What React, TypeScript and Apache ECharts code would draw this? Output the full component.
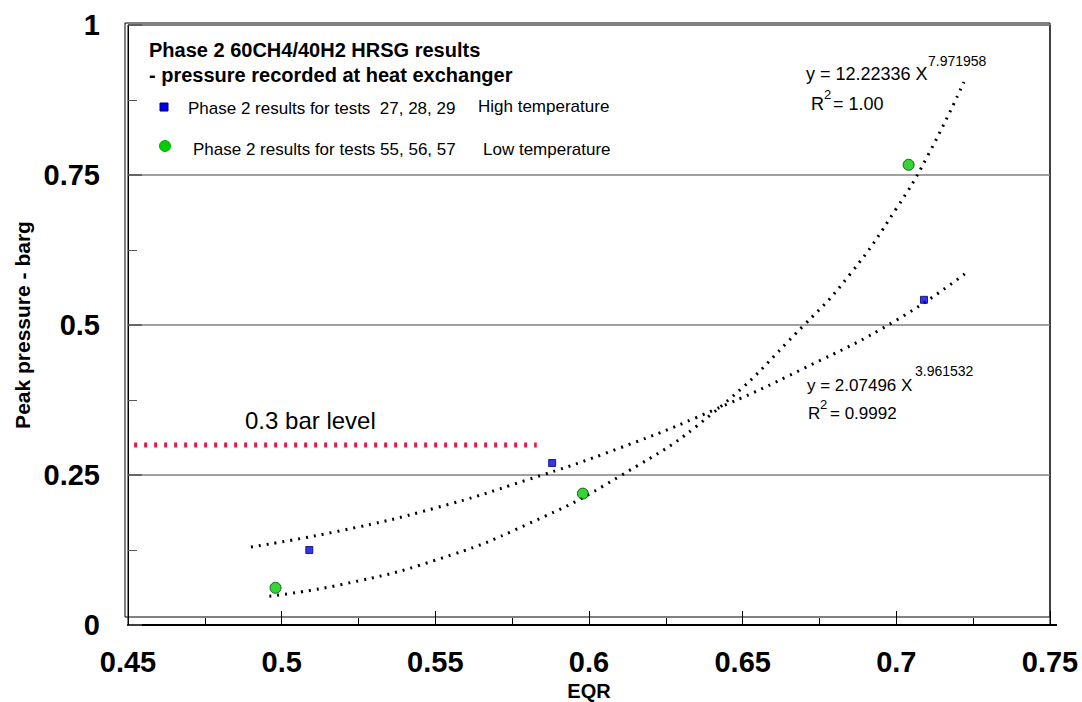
import React, { useEffect, useRef } from "react";
import * as echarts from "echarts";

// Measured data
const highEQR = [0.509, 0.588, 0.709];
const highP = [0.125, 0.27, 0.542];
const lowEQR = [0.498, 0.598, 0.704];
const lowP = [0.062, 0.219, 0.767];

// Trend lines
const highTrendX = [0.49, 0.52, 0.55, 0.58, 0.61, 0.64, 0.67, 0.7, 0.723];
const highTrendY = [0.13, 0.158, 0.195, 0.242, 0.295, 0.357, 0.428, 0.508, 0.588];
const lowTrendX = [0.496, 0.52, 0.55, 0.58, 0.61, 0.64, 0.67, 0.685, 0.7, 0.71, 0.722];
const lowTrendY = [0.048, 0.068, 0.108, 0.168, 0.248, 0.352, 0.5, 0.585, 0.694, 0.78, 0.905];

// 0.3 bar level reference
const levelX = [0.452, 0.583];
const levelY = 0.3;

const xTicks = { min: 0.45, max: 0.75, interval: 0.05 };
const yTicks = { min: 0, max: 1, interval: 0.25 };

const FONT = "Arial, 'Liberation Sans', sans-serif";

export default function App() {
  const ref = useRef<HTMLDivElement>(null);
  useEffect(() => {
    if (!ref.current) return;
    const chart = echarts.init(ref.current, undefined, { renderer: "svg" });
    const zip = (xs: number[], ys: number[]) => xs.map((x, i) => [x, ys[i]]);
    const option: any = {
      animation: false,
      backgroundColor: "#fff",
      textStyle: { fontFamily: FONT },
      grid: {
        left: 128,
        right: 32,
        top: 25,
        bottom: 77,
        show: true,
        borderColor: "#000",
        borderWidth: 1,
        containLabel: false,
        outerBoundsMode: "none",
      },
      xAxis: {
        type: "value",
        min: xTicks.min,
        max: xTicks.max,
        interval: xTicks.interval,
        name: "EQR",
        nameLocation: "middle",
        nameGap: 54,
        nameTextStyle: { fontFamily: FONT, fontWeight: "bold", fontSize: 20, color: "#000" },
        axisLine: { show: true, onZero: false, lineStyle: { color: "#000", width: 2 } },
        axisTick: { show: true, inside: true, length: 14, lineStyle: { color: "#000", width: 1 } },
        minorTick: { show: true, splitNumber: 2, length: 7, lineStyle: { color: "#000", width: 1 } },
        splitLine: { show: false },
        axisLabel: {
          margin: 22,
          fontFamily: FONT,
          fontWeight: "bold",
          fontSize: 29,
          color: "#000",
        },
      },
      yAxis: {
        type: "value",
        min: yTicks.min,
        max: yTicks.max,
        interval: yTicks.interval,
        name: "Peak pressure - barg",
        nameLocation: "middle",
        nameRotate: 90,
        nameGap: 80,
        nameTextStyle: { fontFamily: FONT, fontWeight: "bold", fontSize: 21, color: "#000" },
        axisLine: { show: true, lineStyle: { color: "#000", width: 1 } },
        axisTick: { show: true, inside: true, length: 14, lineStyle: { color: "#555", width: 1.5 } },
        minorTick: { show: true, splitNumber: 2, length: 9, lineStyle: { color: "#555", width: 1 } },
        splitLine: { show: true, lineStyle: { color: "#808080", width: 1.5 } },
        axisLabel: {
          margin: 28,
          fontFamily: FONT,
          fontWeight: "bold",
          fontSize: 29,
          color: "#000",
        },
      },
      series: [
        {
          name: "0.3 bar level",
          type: "line",
          data: levelX.map((x) => [x, levelY]),
          symbol: "none",
          silent: true,
          lineStyle: { color: "#E8174B", width: 5, type: [3, 7], cap: "butt" },
          z: 2,
        },
        {
          name: "High trend",
          type: "line",
          data: zip(highTrendX, highTrendY),
          smooth: true,
          symbol: "none",
          silent: true,
          lineStyle: { color: "#000", width: 3, type: [2, 6], cap: "butt" },
          z: 2,
        },
        {
          name: "Low trend",
          type: "line",
          data: zip(lowTrendX, lowTrendY),
          smooth: true,
          symbol: "none",
          silent: true,
          lineStyle: { color: "#000", width: 3, type: [2, 6], cap: "butt" },
          z: 2,
        },
        {
          name: "Phase 2 results for tests  27, 28, 29",
          type: "scatter",
          data: zip(highEQR, highP),
          symbol: "rect",
          symbolSize: 7,
          itemStyle: { color: "#0000F0", borderColor: "#000060", borderWidth: 1 },
          z: 5,
        },
        {
          name: "Phase 2 results for tests 55, 56, 57",
          type: "scatter",
          data: zip(lowEQR, lowP),
          symbol: "circle",
          symbolSize: 11,
          itemStyle: { color: "#00CC00", borderColor: "#004000", borderWidth: 1 },
          z: 5,
        },
      ],
      graphic: [
        // outer frame (double line look)
        {
          type: "rect",
          shape: { x: 125, y: 23, width: 925, height: 594 },
          style: { fill: "none", stroke: "#000", lineWidth: 1 },
          silent: true,
          z: 0,
        },
        {
          type: "line",
          shape: { x1: 1050, y1: 625, x2: 1057, y2: 625 },
          style: { stroke: "#000", lineWidth: 2 },
          silent: true,
        },
        // legend box texts
        {
          type: "text",
          left: 149,
          top: 40,
          style: { text: "Phase 2 60CH4/40H2 HRSG results", font: `bold 20px ${FONT}`, fill: "#000" },
        },
        {
          type: "text",
          left: 149,
          top: 65,
          style: { text: "- pressure recorded at heat exchanger", font: `bold 20px ${FONT}`, fill: "#000" },
        },
        {
          type: "rect",
          shape: { x: 160, y: 103, width: 8, height: 8 },
          style: { fill: "#0000F0", stroke: "#000060", lineWidth: 1 },
        },
        {
          type: "text",
          left: 188,
          top: 100,
          style: { text: "Phase 2 results for tests  27, 28, 29", font: `17px ${FONT}`, fill: "#000" },
        },
        {
          type: "text",
          left: 478,
          top: 98,
          style: { text: "High temperature", font: `17px ${FONT}`, fill: "#000" },
        },
        {
          type: "circle",
          shape: { cx: 165, cy: 146, r: 5.5 },
          style: { fill: "#00CC00", stroke: "#00AA00", lineWidth: 1 },
        },
        {
          type: "text",
          left: 193,
          top: 141,
          style: { text: "Phase 2 results for tests 55, 56, 57", font: `17px ${FONT}`, fill: "#000" },
        },
        {
          type: "text",
          left: 483,
          top: 141,
          style: { text: "Low temperature", font: `17px ${FONT}`, fill: "#000" },
        },
        // 0.3 bar level label
        {
          type: "text",
          left: 245,
          top: 408,
          style: { text: "0.3 bar level", font: `24px ${FONT}`, fill: "#000" },
        },
        // upper equation
        {
          type: "text",
          left: 806,
          top: 65,
          style: { text: "y = 12.22336 X", font: `18px ${FONT}`, fill: "#000" },
        },
        {
          type: "text",
          left: 928,
          top: 54,
          style: { text: "7.971958", font: `14px ${FONT}`, fill: "#000" },
        },
        {
          type: "text",
          left: 811,
          top: 95,
          style: { text: "R", font: `18px ${FONT}`, fill: "#000" },
        },
        {
          type: "text",
          left: 824,
          top: 88,
          style: { text: "2", font: `13px ${FONT}`, fill: "#000" },
        },
        {
          type: "text",
          left: 833,
          top: 95,
          style: { text: "= 1.00", font: `18px ${FONT}`, fill: "#000" },
        },
        // lower equation
        {
          type: "text",
          left: 807,
          top: 377,
          style: { text: "y = 2.07496 X", font: `17px ${FONT}`, fill: "#000" },
        },
        {
          type: "text",
          left: 915,
          top: 364,
          style: { text: "3.961532", font: `14px ${FONT}`, fill: "#000" },
        },
        {
          type: "text",
          left: 808,
          top: 405,
          style: { text: "R", font: `17px ${FONT}`, fill: "#000" },
        },
        {
          type: "text",
          left: 820,
          top: 398,
          style: { text: "2", font: `13px ${FONT}`, fill: "#000" },
        },
        {
          type: "text",
          left: 830,
          top: 405,
          style: { text: "= 0.9992", font: `17px ${FONT}`, fill: "#000" },
        },
      ],
    };
    chart.setOption(option);
    return () => chart.dispose();
  }, []);
  return <div ref={ref} style={{ width: 1082, height: 702, position: "absolute", left: 0, top: 0 }} />;
}
